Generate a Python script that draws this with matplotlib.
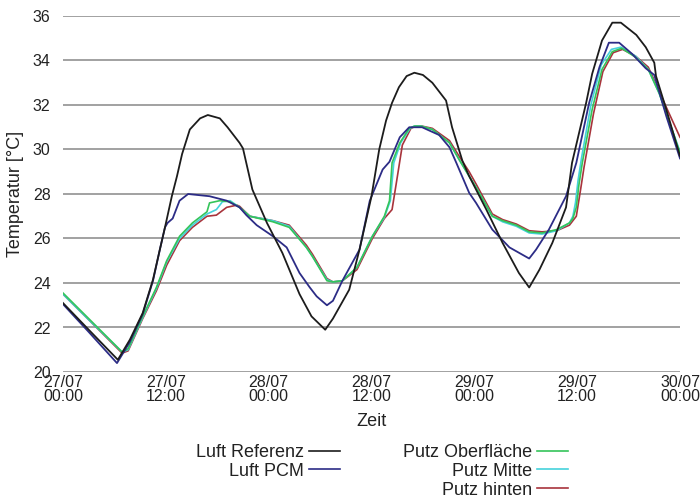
import matplotlib
matplotlib.use("Agg")
import matplotlib.pyplot as plt
from matplotlib.lines import Line2D

plt.rcParams['font.family'] = ['Liberation Sans', 'DejaVu Sans']

# time in hours since 27/07 00:00
tick_hours = [0, 12, 24, 36, 48, 60, 72]
tick_labels = ["27/07\n00:00", "27/07\n12:00", "28/07\n00:00", "28/07\n12:00",
               "29/07\n00:00", "29/07\n12:00", "30/07\n00:00"]
y_ticks = [20, 22, 24, 26, 28, 30, 32, 34, 36]

ref_h = [0, 3.0, 6.4, 7.8, 9.3, 10.5, 11.3, 11.9, 12.7, 13.3, 13.9, 14.8, 16.0, 16.9, 18.3,
         19.2, 20.6, 21.0, 22.1, 23.8, 25.6, 27.6, 29.0, 30.6, 31.5, 33.4, 34.6, 36.0, 36.9,
         37.7, 38.4, 39.2, 40.1, 41.0, 42.0, 43.1, 44.7, 45.4, 46.6, 47.4, 49.4, 51.3, 53.2,
         54.4, 55.6, 57.1, 58.7, 59.4, 61.05, 61.75, 62.9, 64.1, 65.1, 66.9, 68.0, 69.0, 69.2,
         70.4, 72.0]
ref_t = [23.1, 21.9, 20.55, 21.45, 22.65, 24.15, 25.5, 26.5, 27.9, 28.8, 29.8, 30.9, 31.4, 31.55, 31.4,
         31.0, 30.3, 30.05, 28.2, 26.7, 25.35, 23.5, 22.5, 21.9, 22.4, 23.7, 25.5, 27.9, 30.0,
         31.3, 32.1, 32.8, 33.3, 33.45, 33.35, 33.0, 32.2, 31.0, 29.5, 28.8, 27.3, 25.8, 24.45,
         23.8, 24.6, 25.8, 27.4, 29.4, 32.1, 33.4, 34.9, 35.7, 35.7, 35.15, 34.6, 33.9, 33.3,
         31.8, 29.7]

pcm_h = [0, 3.0, 6.3, 7.8, 9.3, 10.5, 11.3, 11.9, 12.2, 12.8, 13.3, 13.6, 14.6, 17.1, 19.1,
         20.6, 21.4, 22.6, 24.5, 26.1, 27.6, 28.8, 29.6, 30.8, 31.5, 32.6, 34.6, 35.8, 37.3,
         38.1, 39.3, 40.4, 41.9, 43.9, 45.1, 45.9, 47.4, 48.2, 50.1, 52.1, 54.4, 55.2, 56.7,
         58.7, 59.9, 61.4, 62.6, 63.7, 64.9, 66.4, 68.0, 69.0, 70.4, 72.0]
pcm_t = [23.05, 21.8, 20.4, 21.35, 22.6, 24.1, 25.5, 26.5, 26.7, 26.9, 27.4, 27.7, 28.0, 27.9, 27.7,
         27.4, 27.05, 26.6, 26.1, 25.6, 24.45, 23.8, 23.4, 23.0, 23.2, 24.1, 25.5, 27.7, 29.1,
         29.45, 30.55, 31.0, 31.0, 30.65, 30.1, 29.4, 28.05, 27.6, 26.4, 25.6, 25.1, 25.5, 26.4,
         27.9, 29.4, 32.1, 33.7, 34.8, 34.8, 34.3, 33.65, 33.35, 31.5, 29.6]

ober_h = [0, 3.0, 6.9, 7.6, 9.3, 10.9, 12.1, 13.6, 15.1, 16.8, 17.1, 18.3, 19.5, 20.6, 21.8,
          24.5, 26.4, 28.4, 29.1, 30.8, 31.5, 32.6, 34.3, 36.1, 37.5, 38.1, 38.4, 39.3, 40.4,
          41.0, 41.8, 43.1, 45.1, 46.3, 47.4, 48.2, 50.1, 51.3, 52.9, 54.4, 55.9, 57.6, 59.1,
          59.5, 59.9, 60.2, 60.6, 61.75, 62.9, 64.1, 65.2, 66.8, 68.3, 69.6, 72.0]
ober_t = [23.55, 22.4, 20.9, 21.05, 22.5, 23.8, 25.0, 26.1, 26.7, 27.2, 27.6, 27.7, 27.65, 27.4, 27.0,
          26.75, 26.5, 25.6, 25.2, 24.1, 24.05, 24.1, 24.7, 26.1, 27.0, 27.7, 29.4, 30.3, 30.95,
          31.05, 31.05, 30.9, 30.3, 29.5, 28.8, 28.3, 27.0, 26.8, 26.6, 26.3, 26.25, 26.4, 26.7,
          26.9, 27.4, 28.4, 29.4, 31.8, 33.6, 34.4, 34.55, 34.15, 33.6, 32.5, 29.85]

mitte_h = [0, 3.0, 6.9, 7.6, 9.3, 10.9, 12.1, 13.6, 15.1, 16.8, 17.9, 18.6, 19.5, 20.6, 21.8,
           24.5, 26.4, 28.4, 29.1, 30.8, 31.5, 32.6, 34.3, 36.1, 37.5, 38.2, 38.6, 39.4, 40.5,
           41.0, 41.8, 43.1, 45.1, 46.3, 47.4, 48.2, 50.1, 51.3, 52.9, 54.4, 55.9, 57.6, 59.1,
           59.5, 59.8, 60.1, 60.5, 61.6, 62.8, 64.0, 65.1, 66.8, 68.3, 69.6, 72.0]
mitte_t = [23.5, 22.35, 20.9, 21.0, 22.45, 23.75, 24.95, 26.0, 26.6, 27.1, 27.3, 27.65, 27.7, 27.4, 27.0,
           26.8, 26.55, 25.6, 25.2, 24.15, 24.05, 24.1, 24.7, 26.1, 26.95, 27.7, 29.4, 30.3, 30.95,
           31.05, 31.05, 30.9, 30.3, 29.5, 28.8, 28.3, 27.0, 26.75, 26.55, 26.25, 26.2, 26.35, 26.7,
           27.0, 27.6, 28.6, 29.6, 32.0, 33.8, 34.5, 34.6, 34.2, 33.6, 32.5, 29.9]

hinten_h = [0, 3.0, 6.9, 7.6, 9.3, 10.9, 12.1, 13.6, 15.1, 16.8, 17.9, 19.1, 20.3, 20.6, 21.8,
            24.5, 26.4, 28.4, 29.1, 30.8, 31.5, 32.6, 34.3, 36.1, 37.5, 38.4, 38.9, 39.6, 40.6,
            41.2, 41.9, 43.1, 45.1, 46.3, 47.4, 48.2, 50.1, 51.3, 52.9, 54.4, 55.9, 57.6, 59.1,
            59.9, 60.4, 60.8, 61.9, 63.0, 64.2, 65.3, 66.8, 68.3, 70.4, 72.0]
hinten_t = [23.5, 22.35, 20.85, 20.95, 22.4, 23.65, 24.8, 25.9, 26.5, 27.0, 27.05, 27.4, 27.5, 27.45, 27.0,
            26.8, 26.6, 25.7, 25.3, 24.2, 24.05, 24.1, 24.6, 26.0, 26.9, 27.3, 28.5, 30.2, 30.95,
            31.05, 31.05, 30.95, 30.4, 29.65, 29.0, 28.45, 27.1, 26.85, 26.65, 26.35, 26.3, 26.35, 26.6,
            27.0, 28.2, 29.2, 31.6, 33.5, 34.35, 34.5, 34.2, 33.7, 31.9, 30.55]

names = ["Luft Referenz", "Luft PCM", "Putz Oberfläche", "Putz Mitte", "Putz hinten"]
colors = ["#1c1c1c", "#2c2c86", "#35c45a", "#45d2dc", "#a8343c"]

fig = plt.figure(figsize=(7.0, 4.99), dpi=100)
ax = fig.add_axes([63/700, 1-372/499, (680-63)/700, (372-16)/499])

ax.plot(hinten_h, hinten_t, color=colors[4], lw=1.2)
ax.plot(mitte_h, mitte_t, color=colors[3], lw=1.2)
ax.plot(ober_h, ober_t, color=colors[2], lw=1.2)
ax.plot(pcm_h, pcm_t, color=colors[1], lw=1.3)
ax.plot(ref_h, ref_t, color=colors[0], lw=1.3)

ax.set_xlim(0, 72)
ax.set_ylim(20, 36)
ax.set_yticks(y_ticks)
ax.set_xticks(tick_hours)
ax.set_xticklabels(tick_labels, linespacing=0.9)
ax.tick_params(axis='both', length=0, labelsize=11.5, colors='#222222')
ax.tick_params(axis='x', pad=2)
ax.tick_params(axis='y', pad=9)
ax.yaxis.grid(True, color='#9a9a9a', lw=1.3)
ax.xaxis.grid(False)
ax.set_axisbelow(True)
for s in ax.spines.values():
    s.set_visible(False)

ax.set_xlabel("Zeit", fontsize=13, labelpad=7, color='#222222')
ax.set_ylabel("Temperatur [°C]", fontsize=13, labelpad=6, color='#222222')

handles = [Line2D([], [], color=c, lw=1.2) for c in colors]
leg1 = fig.legend(handles[:2], names[:2], loc='upper right', bbox_to_anchor=(340/700, 1-444/499),
                  frameon=False, markerfirst=False, fontsize=13, handlelength=1.7,
                  handletextpad=0.3, labelspacing=0.1, borderaxespad=0, borderpad=0)
leg2 = fig.legend(handles[2:], names[2:], loc='upper right', bbox_to_anchor=(568/700, 1-444/499),
                  frameon=False, markerfirst=False, fontsize=13, handlelength=1.7,
                  handletextpad=0.3, labelspacing=0.1, borderaxespad=0, borderpad=0)
for leg in (leg1, leg2):
    for t in leg.get_texts():
        t.set_ha('right')
        t.set_color('#222222')
    leg._legend_box.align = 'right'

fig.savefig("out.png", dpi=100)
